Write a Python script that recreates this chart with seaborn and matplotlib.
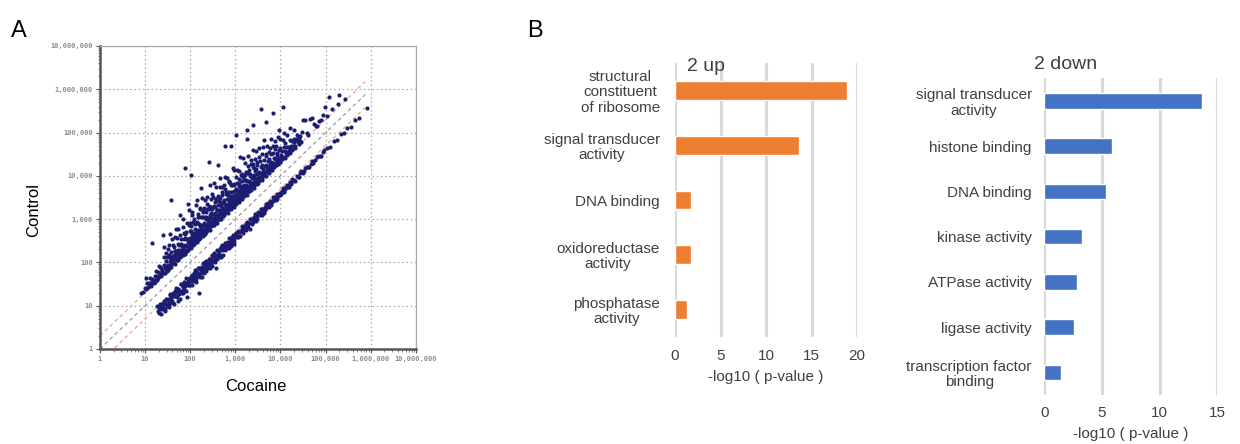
import numpy as np
import pandas as pd
import matplotlib
matplotlib.use("Agg")
import matplotlib.pyplot as plt
import seaborn as sns
from matplotlib.ticker import LogLocator, NullFormatter

# Panel A: genes as (log10 cocaine, log10 control/cocaine)
# genes higher in control (upper band)
up_genes = [
    (0.90, 0.39), (0.96, 0.36), (1.00, 0.42), (1.03, 0.61), (1.05, 0.35), (1.08, 0.44), (1.10, 0.38),
    (1.12, 0.52), (1.14, 0.36), (1.16, 1.29), (1.17, 0.41), (1.19, 0.34), (1.21, 0.48), (1.23, 0.37),
    (1.25, 0.55), (1.27, 0.40), (1.29, 0.35), (1.30, 0.62), (1.32, 0.43), (1.34, 0.36), (1.36, 0.50),
    (1.38, 0.39), (1.39, 1.25), (1.41, 0.34), (1.42, 0.70), (1.44, 0.45), (1.46, 0.38), (1.47, 0.57),
    (1.49, 0.35), (1.50, 0.82),
    (1.51, 0.42), (1.52, 0.36), (1.53, 0.64), (1.55, 0.48), (1.56, 0.34), (1.57, 1.88), (1.58, 0.55),
    (1.59, 0.40), (1.60, 0.95), (1.61, 0.37), (1.62, 0.46), (1.63, 0.72), (1.64, 0.35), (1.65, 0.52),
    (1.66, 0.41), (1.67, 0.60), (1.68, 1.10), (1.69, 0.38), (1.70, 0.47), (1.71, 0.85), (1.72, 0.34),
    (1.73, 0.56), (1.74, 0.43), (1.75, 0.66), (1.76, 0.39), (1.77, 1.32), (1.78, 0.50), (1.79, 0.36),
    (1.80, 0.75), (1.81, 0.44), (1.82, 0.58), (1.83, 0.35), (1.84, 0.98), (1.85, 0.48), (1.86, 0.40),
    (1.87, 0.68), (1.88, 0.53), (1.89, 2.30), (1.90, 0.37), (1.91, 0.80), (1.92, 0.45), (1.93, 0.62),
    (1.94, 1.40), (1.95, 0.34), (1.96, 0.51), (1.97, 0.42), (1.98, 0.88), (1.99, 0.57),
    (2.00, 0.36), (2.01, 0.47), (2.02, 1.99), (2.02, 0.70), (2.03, 0.40), (2.04, 0.55), (2.05, 1.05),
    (2.06, 0.34), (2.07, 0.62), (2.08, 0.44), (2.09, 0.83), (2.10, 0.38), (2.11, 0.50), (2.12, 1.20),
    (2.13, 0.58), (2.14, 0.36), (2.15, 0.46), (2.16, 0.74), (2.17, 0.41), (2.18, 0.95), (2.19, 0.53),
    (2.20, 0.35), (2.21, 0.64), (2.22, 0.43), (2.23, 1.48), (2.24, 0.49), (2.25, 0.38), (2.26, 0.78),
    (2.27, 0.56), (2.28, 0.34), (2.29, 0.90), (2.30, 0.45), (2.31, 0.60), (2.32, 0.40), (2.33, 1.12),
    (2.34, 0.52), (2.35, 0.36), (2.36, 0.70), (2.37, 0.47), (2.38, 0.85), (2.39, 0.42), (2.40, 0.58),
    (2.41, 1.92), (2.42, 0.35), (2.43, 0.66), (2.44, 0.50), (2.45, 1.02), (2.46, 0.39), (2.47, 0.55),
    (2.48, 0.76), (2.49, 0.44),
    (2.50, 0.36), (2.51, 0.62), (2.52, 0.48), (2.53, 1.30), (2.54, 0.41), (2.55, 0.72), (2.56, 0.53),
    (2.57, 0.35), (2.58, 0.88), (2.59, 0.45), (2.60, 0.60), (2.61, 0.39), (2.62, 1.62), (2.63, 0.50),
    (2.64, 0.78), (2.65, 0.36), (2.66, 0.56), (2.67, 1.08), (2.68, 0.43), (2.69, 0.66), (2.70, 0.38),
    (2.71, 0.92), (2.72, 0.52), (2.73, 0.34), (2.74, 0.70), (2.75, 0.46), (2.76, 1.22), (2.77, 1.92),
    (2.78, 0.58), (2.79, 0.40), (2.80, 0.82), (2.81, 0.49), (2.82, 0.36), (2.83, 0.64), (2.84, 0.44),
    (2.85, 1.00), (2.86, 0.54), (2.87, 0.37), (2.88, 0.75), (2.89, 0.48), (2.90, 0.60), (2.91, 1.77),
    (2.92, 0.41), (2.93, 0.86), (2.94, 0.51), (2.95, 0.35), (2.96, 0.68), (2.97, 0.46), (2.98, 1.15),
    (2.99, 0.56),
    (3.00, 0.38), (3.01, 1.94), (3.02, 0.62), (3.03, 0.45), (3.04, 0.80), (3.05, 0.36), (3.06, 0.53),
    (3.07, 1.05), (3.08, 0.42), (3.09, 0.68), (3.10, 0.49), (3.11, 0.35), (3.12, 0.90), (3.13, 0.57),
    (3.14, 0.40), (3.15, 0.74), (3.16, 0.47), (3.17, 1.25), (3.18, 0.36), (3.19, 0.60), (3.20, 0.44),
    (3.21, 0.82), (3.22, 0.52), (3.23, 0.38), (3.24, 0.66), (3.25, 1.60), (3.26, 1.80), (3.27, 0.46),
    (3.28, 0.94), (3.29, 0.40), (3.30, 0.58), (3.31, 0.35), (3.32, 0.72), (3.33, 0.50), (3.34, 1.02),
    (3.35, 0.42), (3.36, 0.63), (3.37, 0.37), (3.38, 1.80), (3.39, 0.55), (3.40, 0.80), (3.41, 0.44),
    (3.42, 0.36), (3.43, 0.68), (3.44, 0.48), (3.45, 1.12), (3.46, 0.40), (3.47, 0.58), (3.48, 0.35),
    (3.49, 0.76),
    (3.50, 0.45), (3.52, 0.38), (3.53, 0.90), (3.55, 0.52), (3.56, 1.98), (3.57, 0.40), (3.58, 0.66),
    (3.60, 0.35), (3.61, 0.48), (3.62, 1.05), (3.64, 0.42), (3.65, 0.58), (3.66, 0.37), (3.68, 0.78),
    (3.69, 1.56), (3.70, 0.46), (3.72, 0.36), (3.73, 0.62), (3.74, 0.41), (3.76, 0.88), (3.77, 0.50),
    (3.78, 0.35), (3.80, 0.70), (3.81, 0.44), (3.82, 0.38), (3.84, 1.61), (3.85, 0.56), (3.86, 0.40),
    (3.88, 0.74), (3.89, 0.36), (3.90, 0.48), (3.92, 0.60), (3.93, 0.39), (3.95, 0.95), (3.96, 0.45),
    (3.98, 0.35), (3.99, 0.66),
    (4.01, 0.42), (4.03, 0.55), (4.05, 1.53), (4.06, 0.77), (4.07, 0.37), (4.09, 0.48), (4.11, 0.64),
    (4.13, 0.40), (4.15, 0.52), (4.17, 0.35), (4.20, 0.63), (4.21, 0.44), (4.23, 0.38), (4.25, 0.56),
    (4.27, 0.42), (4.30, 0.48), (4.32, 0.36), (4.34, 0.52), (4.36, 0.59), (4.38, 0.40), (4.41, 0.46),
    (4.44, 0.37), (4.47, 0.55),
    (4.50, 0.79), (4.55, 0.75), (4.58, 0.40), (4.62, 0.33), (4.66, 0.66), (4.69, 0.64), (4.74, 0.45),
    (4.78, 0.38), (4.80, 0.35), (4.85, 0.42), (4.90, 0.40), (4.95, 0.45), (4.98, 0.60), (5.02, 0.36),
    (5.08, 0.75), (5.15, 0.40), (5.28, 0.37), (5.30, 0.57), (5.44, 0.34),
]

# the dense core of the upper band
up_core = [
    (1.015, 0.37), (1.045, 0.47), (1.075, 0.35), (1.105, 0.41), (1.135, 0.33), (1.155, 0.46),
    (1.185, 0.39), (1.215, 0.34), (1.245, 0.44), (1.265, 0.33), (1.285, 0.49), (1.315, 0.38),
    (1.335, 0.56), (1.355, 0.34), (1.375, 0.45), (1.395, 0.37), (1.415, 0.52), (1.435, 0.33),
    (1.455, 0.42), (1.475, 0.66), (1.485, 0.39), (1.495, 0.31),
    (1.505, 0.44), (1.515, 0.31), (1.535, 0.58), (1.545, 0.39), (1.565, 0.49), (1.575, 0.33),
    (1.585, 0.66), (1.595, 0.42), (1.615, 0.53), (1.625, 0.37), (1.645, 0.46), (1.655, 0.30),
    (1.665, 0.61), (1.675, 0.41), (1.695, 0.55), (1.705, 0.35), (1.715, 0.48), (1.725, 0.70),
    (1.745, 0.38), (1.755, 0.51), (1.765, 0.43), (1.775, 0.34), (1.795, 0.63), (1.805, 0.40),
    (1.815, 0.57), (1.825, 0.36), (1.845, 0.45), (1.855, 0.82), (1.865, 0.52), (1.875, 0.31),
    (1.895, 0.68), (1.905, 0.39), (1.915, 0.47), (1.925, 0.33), (1.945, 0.59), (1.955, 0.42),
    (1.965, 0.54), (1.975, 0.37), (1.985, 0.93), (1.995, 0.44),
    (2.005, 0.73), (2.015, 0.32), (2.025, 0.49), (2.035, 0.61), (2.045, 0.38), (2.055, 0.45),
    (2.065, 0.86), (2.075, 0.34), (2.085, 0.56), (2.095, 0.41), (2.105, 0.67), (2.115, 0.36),
    (2.125, 0.51), (2.135, 0.43), (2.145, 0.79), (2.155, 0.31), (2.165, 0.58), (2.175, 0.47),
    (2.185, 0.39), (2.195, 0.69), (2.205, 0.44), (2.215, 1.02), (2.225, 0.33), (2.235, 0.54),
    (2.245, 0.62), (2.255, 0.40), (2.265, 0.48), (2.275, 0.88), (2.285, 0.37), (2.295, 0.57),
    (2.305, 0.42), (2.315, 0.74), (2.325, 0.32), (2.335, 0.50), (2.345, 0.65), (2.355, 0.45),
    (2.365, 0.38), (2.375, 0.97), (2.385, 0.53), (2.395, 0.35), (2.405, 0.61), (2.415, 0.46),
    (2.425, 0.81), (2.435, 0.40), (2.445, 0.31), (2.455, 0.56), (2.465, 0.68), (2.475, 0.43),
    (2.485, 1.10), (2.495, 0.37),
    (2.505, 0.52), (2.515, 0.41), (2.525, 0.77), (2.535, 0.33), (2.545, 0.59), (2.555, 0.46),
    (2.565, 0.90), (2.575, 0.39), (2.585, 0.63), (2.595, 0.31), (2.605, 0.50), (2.615, 0.71),
    (2.625, 0.42), (2.635, 0.36), (2.645, 0.56), (2.655, 0.84), (2.665, 0.47), (2.675, 0.32),
    (2.685, 0.61), (2.695, 0.44), (2.705, 1.04), (2.715, 0.38), (2.725, 0.54), (2.735, 0.67),
    (2.745, 0.41), (2.755, 0.33), (2.765, 0.59), (2.775, 0.48), (2.785, 0.79), (2.795, 0.36),
    (2.805, 0.52), (2.815, 0.64), (2.825, 0.43), (2.835, 0.31), (2.845, 0.72), (2.855, 0.47),
    (2.865, 0.39), (2.875, 0.95), (2.885, 0.55), (2.895, 0.34), (2.905, 0.62), (2.915, 0.45),
    (2.925, 0.37), (2.935, 0.70), (2.945, 0.42), (2.955, 0.58), (2.965, 0.32), (2.975, 0.83),
    (2.985, 0.49), (2.995, 0.40),
    (3.005, 0.55), (3.015, 0.33), (3.025, 0.68), (3.035, 0.44), (3.045, 0.38), (3.055, 0.61),
    (3.065, 0.47), (3.075, 0.31), (3.085, 0.76), (3.095, 0.41), (3.105, 0.53), (3.115, 0.36),
    (3.125, 0.65), (3.135, 0.45), (3.145, 0.32), (3.155, 0.58), (3.165, 0.86), (3.175, 0.40),
    (3.185, 0.50), (3.195, 0.34), (3.205, 0.69), (3.215, 0.43), (3.225, 0.37), (3.235, 0.56),
    (3.245, 0.46), (3.255, 0.31), (3.265, 0.62), (3.275, 0.39), (3.285, 0.78), (3.295, 0.48),
    (3.305, 0.35), (3.315, 0.54), (3.325, 0.42), (3.335, 0.66), (3.345, 0.33), (3.355, 0.47),
    (3.365, 0.58), (3.375, 0.38), (3.385, 0.90), (3.395, 0.44), (3.405, 0.31), (3.415, 0.60),
    (3.425, 0.41), (3.435, 0.52), (3.445, 0.36), (3.455, 0.71), (3.465, 0.45), (3.475, 0.33),
    (3.485, 0.55), (3.495, 0.40),
    (3.510, 0.32), (3.525, 0.57), (3.540, 0.43), (3.555, 0.35), (3.570, 0.63), (3.585, 0.46),
    (3.595, 0.31), (3.615, 0.54), (3.630, 0.39), (3.645, 0.72), (3.655, 0.44), (3.675, 0.33),
    (3.685, 0.57), (3.705, 0.40), (3.715, 0.49), (3.735, 0.32), (3.750, 0.64), (3.765, 0.43),
    (3.785, 0.37), (3.795, 0.53), (3.815, 0.31), (3.830, 0.46), (3.845, 0.68), (3.865, 0.35),
    (3.875, 0.51), (3.895, 0.41), (3.910, 0.33), (3.925, 0.56), (3.940, 0.44), (3.955, 0.31),
    (3.970, 0.62), (3.985, 0.39),
    (4.00, 0.33), (4.02, 0.47), (4.04, 0.36), (4.08, 0.58), (4.10, 0.32), (4.12, 0.43), (4.14, 0.35),
    (4.16, 0.50), (4.19, 0.38), (4.22, 0.31), (4.24, 0.46), (4.26, 0.34), (4.29, 0.41), (4.31, 0.55),
    (4.33, 0.32), (4.37, 0.45), (4.40, 0.34), (4.43, 0.50), (4.46, 0.33),
]

# the looser cloud above the upper band
up_spread = [
    (1.43, 0.92), (1.47, 0.74), (1.52, 0.88), (1.55, 1.10), (1.62, 0.78), (1.66, 0.92), (1.72, 1.05),
    (1.78, 0.86), (1.83, 1.18), (1.88, 0.77), (1.92, 0.99), (1.97, 1.25), (2.01, 0.84), (2.04, 1.12),
    (2.08, 0.93), (2.11, 0.78), (2.14, 1.30), (2.17, 0.87), (2.21, 1.05), (2.24, 0.80), (2.27, 1.22),
    (2.31, 0.95), (2.34, 0.83), (2.37, 1.15), (2.41, 0.90), (2.44, 1.36), (2.47, 0.81), (2.51, 1.00),
    (2.54, 0.86), (2.57, 1.18), (2.61, 0.93), (2.64, 0.79), (2.67, 1.28), (2.71, 0.85), (2.74, 1.06),
    (2.77, 0.92), (2.81, 1.14), (2.84, 0.78), (2.87, 1.02), (2.91, 0.88), (2.94, 1.24), (2.97, 0.81),
    (3.01, 0.97), (3.04, 1.10), (3.08, 0.84), (3.11, 1.32), (3.14, 0.90), (3.18, 0.79), (3.21, 1.08),
    (3.24, 0.86), (3.28, 1.17), (3.31, 0.82), (3.34, 0.94), (3.38, 1.22), (3.41, 0.78), (3.44, 0.96),
    (3.48, 0.85), (3.52, 1.12), (3.55, 0.80), (3.59, 0.92), (3.63, 1.20), (3.67, 0.83), (3.71, 0.98),
    (3.75, 0.79), (3.79, 1.06), (3.83, 0.85), (3.87, 0.93), (3.91, 0.78), (3.96, 1.10), (4.00, 0.84),
    (4.08, 0.92), (4.15, 0.80), (4.22, 0.88), (4.29, 0.76),
]

# genes lower in control (lower band)
down_genes = [
    (1.27, -0.28), (1.30, -0.36), (1.33, -0.30), (1.35, -0.42), (1.37, -0.33), (1.39, -0.47),
    (1.41, -0.29), (1.43, -0.38), (1.45, -0.52), (1.47, -0.31), (1.49, -0.44), (1.51, -0.35),
    (1.53, -0.55), (1.55, -0.28), (1.57, -0.40), (1.59, -0.48), (1.61, -0.32), (1.63, -0.58),
    (1.65, -0.37), (1.67, -0.45), (1.69, -0.29), (1.71, -0.51), (1.73, -0.34), (1.75, -0.42),
    (1.77, -0.62), (1.79, -0.30), (1.81, -0.47), (1.83, -0.38), (1.85, -0.55), (1.87, -0.33),
    (1.89, -0.44), (1.91, -0.28), (1.93, -0.73), (1.95, -0.40), (1.97, -0.50), (1.99, -0.35),
    (2.01, -0.43), (2.03, -0.31), (2.05, -0.57), (2.07, -0.38), (2.09, -0.47), (2.11, -0.29),
    (2.13, -0.52), (2.15, -0.36), (2.17, -0.44), (2.19, -0.90), (2.20, -0.33), (2.22, -0.49),
    (2.24, -0.40), (2.26, -0.60), (2.28, -0.30), (2.30, -0.45), (2.32, -0.37), (2.34, -0.54),
    (2.36, -0.32), (2.38, -0.42), (2.40, -0.48), (2.42, -0.35), (2.44, -0.58), (2.46, -0.39),
    (2.48, -0.30), (2.50, -0.46), (2.52, -0.36), (2.54, -0.53), (2.56, -0.41), (2.58, -0.72),
    (2.59, -0.31), (2.61, -0.44), (2.63, -0.50), (2.65, -0.34), (2.67, -0.39), (2.69, -0.56),
    (2.71, -0.30), (2.73, -0.43), (2.75, -0.37), (2.77, -0.49), (2.79, -0.33), (2.81, -0.45),
    (2.83, -0.40), (2.85, -0.52), (2.87, -0.31), (2.89, -0.42), (2.91, -0.36), (2.93, -0.47),
    (2.95, -0.32), (2.97, -0.55), (2.99, -0.39),
    (3.02, -0.34), (3.05, -0.46), (3.08, -0.38), (3.11, -0.51), (3.14, -0.31), (3.17, -0.43),
    (3.20, -0.36), (3.23, -0.48), (3.26, -0.33), (3.29, -0.41), (3.32, -0.54), (3.35, -0.35),
    (3.38, -0.45), (3.41, -0.39), (3.44, -0.31), (3.47, -0.47), (3.50, -0.37), (3.53, -0.42),
    (3.56, -0.33), (3.59, -0.49), (3.62, -0.38), (3.65, -0.44), (3.68, -0.34), (3.71, -0.40),
    (3.74, -0.46), (3.77, -0.36), (3.80, -0.42), (3.83, -0.32), (3.86, -0.39), (3.89, -0.45),
    (3.92, -0.35), (3.95, -0.41), (3.98, -0.37),
    (4.02, -0.43), (4.06, -0.34), (4.10, -0.40), (4.14, -0.36), (4.18, -0.44), (4.22, -0.38),
    (4.26, -0.33), (4.31, -0.41), (4.36, -0.37), (4.41, -0.43), (4.46, -0.35), (4.52, -0.40),
    (4.58, -0.38), (4.64, -0.44), (4.70, -0.36), (4.77, -0.41), (4.84, -0.38), (4.90, -0.43),
    (4.97, -0.37), (5.04, -0.40), (5.10, -0.44), (5.18, -0.38), (5.25, -0.42), (5.33, -0.36),
    (5.40, -0.40), (5.48, -0.38), (5.56, -0.42), (5.65, -0.37), (5.74, -0.40), (5.91, -0.35),
]

# the dense core of the lower band
down_core = [
    (1.28, -0.41), (1.31, -0.49), (1.34, -0.34), (1.36, -0.55), (1.38, -0.40), (1.40, -0.45),
    (1.42, -0.33), (1.44, -0.57), (1.46, -0.42), (1.48, -0.48), (1.50, -0.36), (1.52, -0.51),
    (1.54, -0.43), (1.56, -0.31), (1.58, -0.49), (1.60, -0.38), (1.62, -0.55), (1.64, -0.42),
    (1.66, -0.33), (1.68, -0.46), (1.70, -0.39), (1.72, -0.60), (1.74, -0.36), (1.76, -0.50),
    (1.78, -0.44), (1.80, -0.31), (1.82, -0.52), (1.84, -0.41), (1.86, -0.47), (1.88, -0.35),
    (1.90, -0.56), (1.92, -0.43), (1.94, -0.32), (1.96, -0.48), (1.98, -0.39),
    (2.00, -0.53), (2.02, -0.36), (2.04, -0.45), (2.06, -0.50), (2.08, -0.33), (2.10, -0.41),
    (2.12, -0.58), (2.14, -0.38), (2.16, -0.47), (2.18, -0.31), (2.21, -0.54), (2.23, -0.43),
    (2.25, -0.35), (2.27, -0.50), (2.29, -0.40), (2.31, -0.56), (2.33, -0.32), (2.35, -0.46),
    (2.37, -0.38), (2.39, -0.52), (2.41, -0.42), (2.43, -0.34), (2.45, -0.49), (2.47, -0.44),
    (2.49, -0.57), (2.51, -0.37), (2.53, -0.31), (2.55, -0.47), (2.57, -0.40), (2.60, -0.53),
    (2.62, -0.35), (2.64, -0.45), (2.66, -0.49), (2.68, -0.32), (2.70, -0.42), (2.72, -0.54),
    (2.74, -0.38), (2.76, -0.46), (2.78, -0.34), (2.80, -0.50), (2.82, -0.41), (2.84, -0.36),
    (2.86, -0.48), (2.88, -0.43), (2.90, -0.52), (2.92, -0.33), (2.94, -0.44), (2.96, -0.39),
    (2.98, -0.49),
    (3.00, -0.36), (3.03, -0.44), (3.06, -0.33), (3.09, -0.48), (3.12, -0.40), (3.15, -0.37),
    (3.18, -0.50), (3.21, -0.42), (3.24, -0.35), (3.27, -0.46), (3.30, -0.39), (3.33, -0.32),
    (3.36, -0.47), (3.39, -0.43), (3.42, -0.37), (3.45, -0.50), (3.48, -0.40), (3.51, -0.34),
    (3.54, -0.45), (3.57, -0.41), (3.60, -0.36), (3.63, -0.48), (3.66, -0.39), (3.69, -0.43),
    (3.72, -0.35), (3.75, -0.41), (3.78, -0.45), (3.81, -0.38), (3.84, -0.42), (3.87, -0.35),
    (3.90, -0.40), (3.93, -0.46), (3.96, -0.38), (3.99, -0.43),
    (4.04, -0.39), (4.08, -0.45), (4.12, -0.37), (4.16, -0.41), (4.20, -0.35), (4.24, -0.42),
    (4.28, -0.39), (4.33, -0.45), (4.38, -0.40), (4.44, -0.38), (4.49, -0.42), (4.55, -0.36),
    (4.61, -0.41), (4.67, -0.39), (4.73, -0.44), (4.80, -0.37), (4.87, -0.41), (4.94, -0.39),
]

decade_ticks = [1, 10, 100, 1e3, 1e4, 1e5, 1e6, 1e7]
decade_labels = ["1", "10", "100", "1,000", "10,000", "100,000", "1,000,000", "10,000,000"]
fold_ratios = [2, 1, 0.5]
fold_x = [1, 7.5e5]

# Panel B: GO terms, -log10(p-value)
up_terms = ["structural\nconstituent\nof ribosome", "signal transducer\nactivity", "DNA binding",
            "oxidoreductase\nactivity", "phosphatase\nactivity"]
up_values = [18.9, 13.6, 1.7, 1.7, 1.35]
down_terms = ["signal transducer\nactivity", "histone binding", "DNA binding", "kinase activity",
              "ATPase activity", "ligase activity", "transcription factor\nbinding"]
down_values = [13.7, 5.85, 5.35, 3.3, 2.8, 2.6, 1.45]

sns.set_style("white")
plt.rcParams['font.family'] = ['Liberation Sans', 'DejaVu Sans']

fig = plt.figure(figsize=(12.4, 4.44), dpi=100)

# ---------- A: scatter ----------
genes = pd.DataFrame(up_genes + up_core + up_spread + down_genes + down_core,
                     columns=["cocaine_log", "ratio_log"])
genes["Cocaine"] = 10 ** genes["cocaine_log"]
genes["Control"] = 10 ** (genes["cocaine_log"] + genes["ratio_log"])

axA = fig.add_axes([0.0806, 0.2140, 0.2548, 0.6824])
axA.set_xscale("log")
axA.set_yscale("log")
for r, c in zip(fold_ratios, ["#f0a0a0", "#999999", "#f0a0a0"]):
    axA.plot(fold_x, [x * r for x in fold_x], ls=(0, (3, 2.5)), lw=0.9, color=c, zorder=1)
sns.scatterplot(data=genes, x="Cocaine", y="Control", color="#1c1c70", s=9,
                linewidth=0, ax=axA, zorder=3)
axA.set_xlim(1, 1e7)
axA.set_ylim(1, 1e7)
axA.set_xticks(decade_ticks)
axA.set_xticklabels(decade_labels)
axA.set_yticks(decade_ticks)
axA.set_yticklabels(decade_labels)
axA.xaxis.set_minor_locator(LogLocator(base=10, subs=range(2, 10)))
axA.yaxis.set_minor_locator(LogLocator(base=10, subs=range(2, 10)))
axA.xaxis.set_minor_formatter(NullFormatter())
axA.yaxis.set_minor_formatter(NullFormatter())
axA.grid(True, which="major", ls=(0, (1.2, 2.2)), color="#a8a8a8", lw=0.9)
axA.tick_params(which="major", length=3, width=0.8, color="#555555", direction="out",
                labelsize=5, labelcolor="#8a8a8a", pad=2, left=True, bottom=True)
axA.tick_params(which="minor", length=1.8, width=0.6, color="#777777", direction="out",
                left=True, bottom=True)
for lab in axA.get_xticklabels() + axA.get_yticklabels():
    lab.set_fontfamily("DejaVu Sans Mono")
    lab.set_fontweight("bold")
for side in ["left", "bottom"]:
    axA.spines[side].set_color("#555555")
    axA.spines[side].set_linewidth(1.8)
for side in ["top", "right"]:
    axA.spines[side].set_color("#aaaaaa")
    axA.spines[side].set_linewidth(0.9)
axA.set_xlabel("Cocaine", fontsize=12, color="black")
axA.set_ylabel("Control", fontsize=12, color="black")
axA.xaxis.set_label_coords(0.492, -0.100)
axA.yaxis.set_label_coords(-0.185, 0.46)

# ---------- B: bar charts ----------
text_col = "#404040"


def go_bars(ax, terms, values, color, xmax, ticks, ypad, xpad):
    df = pd.DataFrame({"term": terms, "value": values})
    sns.barplot(data=df, x="value", y="term", color=color, saturation=1,
                width=0.34, ax=ax, orient="h")
    ax.set_xlim(0, xmax)
    ax.set_xticks(ticks)
    ax.xaxis.grid(True, color="#d9d9d9", lw=2.2)
    ax.set_axisbelow(True)
    sns.despine(ax=ax, left=True, bottom=True)
    ax.tick_params(axis="both", length=0, labelsize=11, labelcolor=text_col)
    ax.tick_params(axis="y", pad=ypad)
    ax.tick_params(axis="x", pad=xpad)
    for lab in ax.get_yticklabels():
        lab.set_multialignment("center")
        lab.set_linespacing(1.1)
    ax.set_ylabel("")
    ax.set_xlabel("-log10 ( p-value )", fontsize=11, color=text_col, labelpad=5)
    return ax


axU = fig.add_axes([0.5444, 0.2410, 0.1468, 0.6170])
go_bars(axU, up_terms, up_values, "#ED7D31", 20, [0, 5, 10, 15, 20], 11, 9)
axD = fig.add_axes([0.8422, 0.1104, 0.1395, 0.7132])
go_bars(axD, down_terms, down_values, "#4472C4", 15, [0, 5, 10, 15], 9, 8)

fig.text(0.554, 0.851, "2 up", fontsize=14, color=text_col, va="center", ha="left")
fig.text(0.834, 0.854, "2 down", fontsize=14, color=text_col, va="center", ha="left")
fig.text(0.009, 0.93, "A", fontsize=17, color="black", va="center", ha="left")
fig.text(0.425, 0.93, "B", fontsize=17, color="black", va="center", ha="left")

fig.savefig("out.png", dpi=100)
